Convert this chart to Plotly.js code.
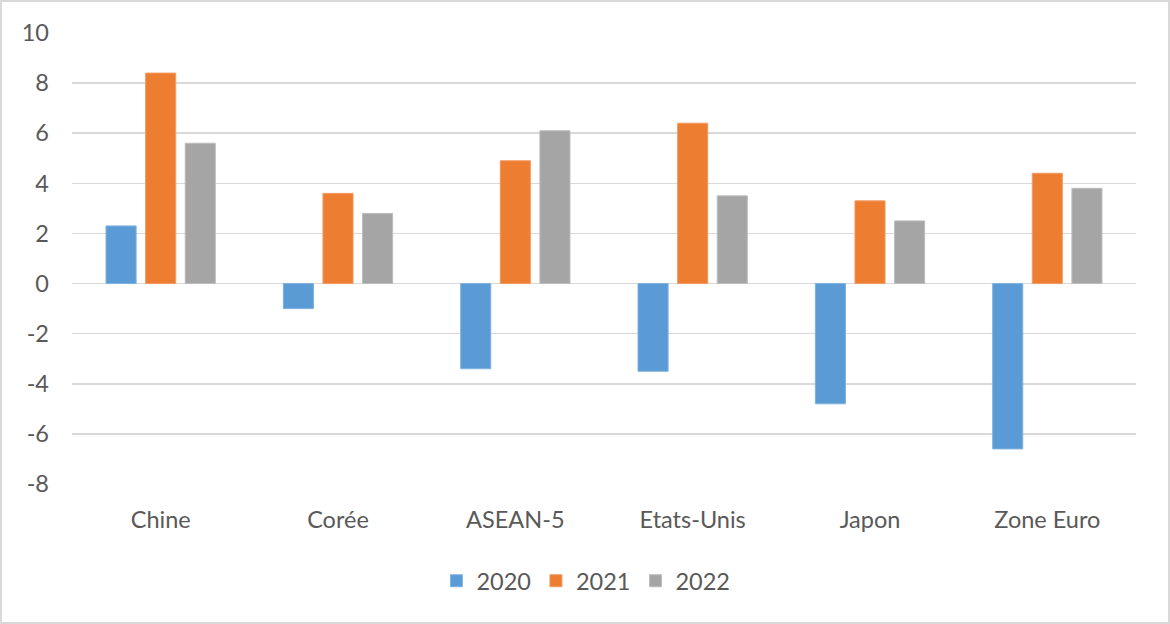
<!DOCTYPE html>
<html>
<head>
<meta charset="utf-8">
<script src="https://cdn.plot.ly/plotly-3.0.1.min.js"></script>
<style>
html,body{margin:0;padding:0;background:#fff;}
#wrap{width:1170px;height:624px;box-sizing:border-box;border:2px solid #d9d9d9;}
#chart{width:1166px;height:620px;}
</style>
</head>
<body>
<div id="wrap"><div id="chart"></div></div>
<script>
const categories = ["Chine", "Corée", "ASEAN-5", "Etats-Unis", "Japon", "Zone Euro"];
const values2020 = [2.3, -1.0, -3.4, -3.5, -4.8, -6.6];
const values2021 = [8.4, 3.6, 4.9, 6.4, 3.3, 4.4];
const values2022 = [5.6, 2.8, 6.1, 3.5, 2.5, 3.8];
const seriesNames = ["2020", "2021", "2022"];
const yTicks = [-8, -6, -4, -2, 0, 2, 4, 6, 8, 10];

const colors = ["#5B9BD5", "#ED7D31", "#A5A5A5"];
const lineColors = ["#7FB2E0", "#F29B63", "#BDBDBD"];
const allValues = [values2020, values2021, values2022];

const traces = allValues.map((v, i) => ({
  type: "bar",
  name: seriesNames[i],
  x: categories,
  y: v,
  marker: {color: colors[i], line: {color: lineColors[i], width: 1}},
  hoverinfo: "x+y+name"
}));

const font = {family: "Lato, 'Open Sans', sans-serif", size: 23.5, color: "#595959"};

const layout = {
  width: 1166,
  height: 620,
  margin: {l: 70, r: 32, t: 31, b: 138, pad: 0},
  paper_bgcolor: "#ffffff",
  plot_bgcolor: "#ffffff",
  font: font,
  barmode: "group",
  bargap: 0.33,
  bargroupgap: 0.24,
  showlegend: true,
  legend: {
    orientation: "h",
    x: 0.483,
    xanchor: "center",
    y: -0.215,
    yanchor: "middle",
    font: font,
    itemwidth: 30,
    traceorder: "normal"
  },
  xaxis: {
    type: "category",
    showgrid: false,
    showline: false,
    zeroline: false,
    ticks: "",
    ticklabelstandoff: 19,
    tickfont: font
  },
  yaxis: {
    range: [-8, 10],
    tickvals: yTicks,
    ticktext: yTicks.map(String),
    showgrid: true,
    gridcolor: "#d9d9d9",
    gridwidth: 1.5,
    zeroline: true,
    zerolinecolor: "#d9d9d9",
    zerolinewidth: 1.5,
    showline: false,
    ticks: "",
    ticklabelstandoff: 22,
    tickfont: font
  }
};

Plotly.newPlot("chart", traces, layout, {displayModeBar: false, staticPlot: true});
</script>
</body>
</html>
